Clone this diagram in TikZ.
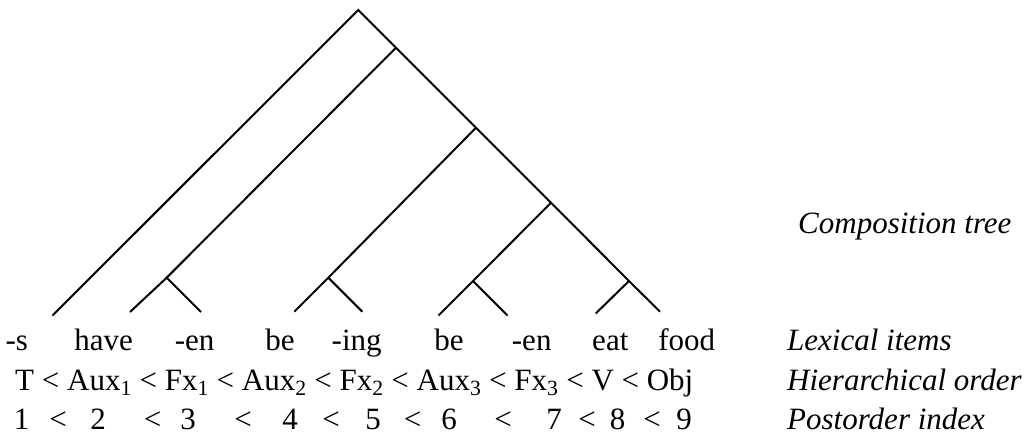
\documentclass[tikz,border=0pt]{standalone}
\usepackage{fontspec}
\setmainfont{Liberation Serif}
\begin{document}
\begin{tikzpicture}[x=1pt,y=-1pt,
  branch/.style={line width=2pt, line join=miter},
  word/.style={inner sep=0pt, anchor=base, font=\fontsize{31}{37}\selectfont},
  row/.style={inner sep=0pt, anchor=base west, font=\fontsize{31}{37}\selectfont},
  label/.style={inner sep=0pt, anchor=base west, font=\fontsize{31}{37}\selectfont\itshape}]
\useasboundingbox (0,0) rectangle (1036,434);
% tree coordinates
\coordinate (root) at (358.3,10);
\coordinate (n2) at (396,47.7);
\coordinate (n3) at (476,127.7);
\coordinate (n4) at (551,202.7);
\coordinate (n5) at (629,281);
\coordinate (nA) at (166.7,277.7);
\coordinate (nB) at (328.3,277.7);
\coordinate (nC) at (473,281);
\coordinate (l1) at (52.5,315.5);
\coordinate (l2) at (130,312);
\coordinate (l3) at (201,312);
\coordinate (l4) at (294.3,311.7);
\coordinate (l5) at (362.3,311.7);
\coordinate (l6) at (438.5,315.5);
\coordinate (l7) at (507.5,315.5);
\coordinate (l8) at (595.7,313.5);
\coordinate (l9) at (660,311.7);
% tree
\draw[branch] (l1) -- (root) -- (n2) -- (n3) -- (n4) -- (n5) -- (l9);
\draw[branch] (n2) -- (nA) -- (l2);
\draw[branch] (nA) -- (l3);
\draw[branch] (n3) -- (nB) -- (l4);
\draw[branch] (nB) -- (l5);
\draw[branch] (n4) -- (nC) -- (l6);
\draw[branch] (nC) -- (l7);
\draw[branch] (n5) -- (l8);
% lexical items
\node[word] (w1) at (16.7,350) {-s};
\node[word] (w2) at (103.7,350) {have};
\node[word] (w3) at (194.7,350) {-en};
\node[word] (w4) at (280,350) {be};
\node[word] (w5) at (356.7,350) {-ing};
\node[word] (w6) at (449,350) {be};
\node[word] (w7) at (531.7,350) {-en};
\node[word] (w8) at (610.3,350) {eat};
\node[word] (w9) at (686.7,350) {food};
% hierarchical order
\node[row] (hier) at (15,390) {T < Aux\textsubscript{1} < Fx\textsubscript{1} < Aux\textsubscript{2} < Fx\textsubscript{2} < Aux\textsubscript{3} < Fx\textsubscript{3} < V < Obj};
% postorder index
\node[word] (p1) at (21.5,429) {1};
\node[word] (pl1) at (58,429) {<};
\node[word] (p2) at (98,429) {2};
\node[word] (pl2) at (152.5,429) {<};
\node[word] (p3) at (188,429) {3};
\node[word] (pl3) at (243,429) {<};
\node[word] (p4) at (290,429) {4};
\node[word] (pl4) at (331,429) {<};
\node[word] (p5) at (373,429) {5};
\node[word] (pl5) at (412.5,429) {<};
\node[word] (p6) at (449,429) {6};
\node[word] (pl6) at (503,429) {<};
\node[word] (p7) at (554,429) {7};
\node[word] (pl7) at (587,429) {<};
\node[word] (p8) at (617.5,429) {8};
\node[word] (pl8) at (652,429) {<};
\node[word] (p9) at (684,429) {9};
% row labels
\node[label] (tcomp) at (798,233) {Composition tree};
\node[label] (tlex) at (787,350) {Lexical items};
\node[label] (thier) at (787,390) {Hierarchical order};
\node[label] (tpost) at (787,429) {Postorder index};
\end{tikzpicture}
\end{document}
